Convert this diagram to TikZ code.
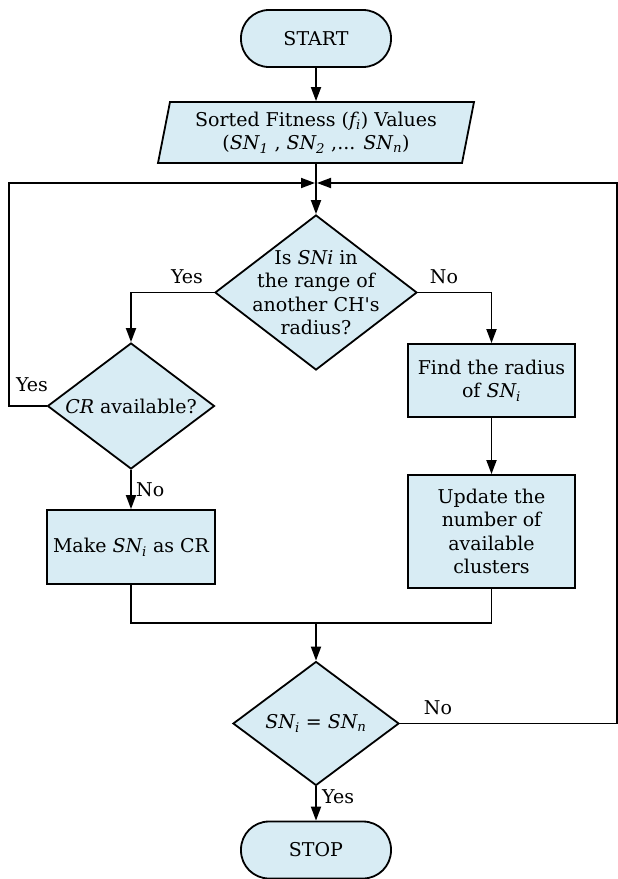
\documentclass[tikz,border=0pt]{standalone}
\usepackage{fontspec}
\setmainfont{DejaVu Serif}
\usetikzlibrary{shapes.geometric,arrows.meta}
\definecolor{boxfill}{RGB}{216,236,244}
\newcommand{\straightquote}{\XeTeXglyph\XeTeXcharglyph"27\relax}
\begin{document}
\begin{tikzpicture}[x=1pt,y=-1pt,
  every node/.style={font=\fontsize{19}{23.5}\selectfont},
  shapeline/.style={draw=black, line width=1.8pt, fill=boxfill},
  terminal/.style={shapeline, rectangle, rounded corners=28pt, minimum width=150pt, minimum height=57pt, inner sep=0pt},
  procbox/.style={shapeline, rectangle, minimum width=167pt, inner sep=0pt, align=center},
  decision/.style={shapeline, diamond, inner sep=0pt},
  iobox/.style={shapeline, trapezium, trapezium left angle=74, trapezium right angle=106, trapezium stretches body, minimum width=316pt, minimum height=61pt, inner sep=0pt, align=center},
  conn/.style={line width=1.8pt},
  arr/.style={conn, -{Triangle[length=14pt,width=10pt]}},
  lbl/.style={inner sep=0pt}
]
\useasboundingbox (0,0) rectangle (618,879);

% nodes
\node[terminal] (start) at (316,38.5) {START};
\node[iobox] (para) at (316,132.5) {Sorted Fitness (\textit{f\textsubscript{i}}) Values\\(\textit{SN\textsubscript{1}} , \textit{SN\textsubscript{2}} ,... \textit{SN\textsubscript{n}})};
\coordinate (m) at (316,183);
\coordinate (lp) at (9,183);
\coordinate (rp) at (617,183);

\node[decision, minimum width=202pt, minimum height=155pt] (d1) at (316,292.5) {};
\node[align=center, inner sep=0pt] (d1t) at (d1.center) {Is \textit{SNi} in\\the range of\\another CH\straightquote s\\radius?};

\node[decision, minimum width=167pt, minimum height=126pt] (cr) at (131,406) {};
\node[inner sep=0pt] (crt) at (cr.center) {\textit{CR} available?};

\node[procbox, minimum height=73pt] (find) at (491.5,380.5) {Find the radius\\of \textit{SN\textsubscript{i}}};
\node[procbox, minimum height=113pt] (update) at (491.5,531.5) {Update the\\number of\\available\\clusters};
\node[procbox, minimum width=168pt, minimum height=74pt] (make) at (131,547) {Make \textit{SN\textsubscript{i}} as CR};

\coordinate (m2) at (316,623);
\node[decision, minimum width=166pt, minimum height=124pt] (d3) at (316,723.5) {};
\node[inner sep=0pt] (d3t) at (d3.center) {\textit{SN\textsubscript{i}} = \textit{SN\textsubscript{n}}};

\node[terminal] (stop) at (316,850) {STOP};

% connectors
\draw[arr] (start.south) -- (para.north);
\draw[arr] (para.south) -- (d1.north);
\draw[arr] (d1.west) -| (cr.north);
\draw[arr] (d1.east) -| (find.north);
\draw[arr, shorten >=1pt] (cr.west) -| (lp) -- (m);
\draw[arr] (cr.south) -- (make.north);
\draw[arr] (find.south) -- (update.north);
\draw[conn] (make.south) |- (m2);
\draw[conn] (update.south) |- (m2);
\draw[arr] (m2) -- (d3.north);
\draw[arr, shorten >=1pt] (d3.east) -| (rp) -- (m);
\draw[arr] (d3.south) -- (stop.north);

% labels
\node[lbl] (yes1) at (187,277) {Yes};
\node[lbl] (no1) at (444,277) {No};
\node[lbl] (yes2) at (32,385) {Yes};
\node[lbl, anchor=west] (no2) at (136,490) {No};
\node[lbl] (no3) at (438,708) {No};
\node[lbl, anchor=west] (yes3) at (322,797) {Yes};
\end{tikzpicture}
\end{document}
